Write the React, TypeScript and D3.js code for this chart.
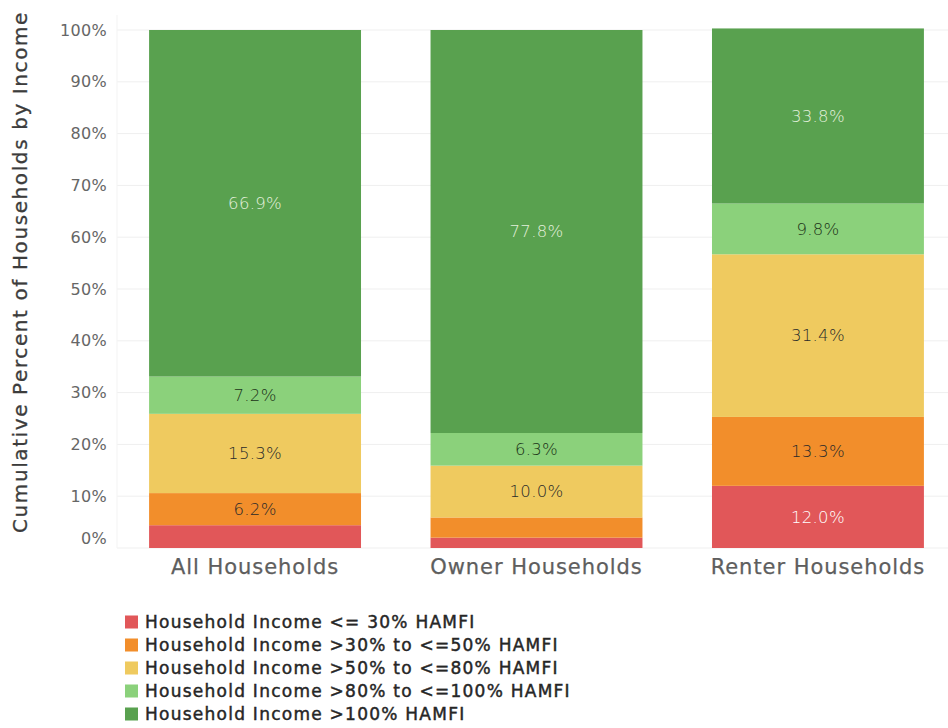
import React from "react";
import * as d3 from "d3";

const categories = ["All Households", "Owner Households", "Renter Households"];
const seriesNames = [
  "Household Income <= 30% HAMFI",
  "Household Income >30% to <=50% HAMFI",
  "Household Income >50% to <=80% HAMFI",
  "Household Income >80% to <=100% HAMFI",
  "Household Income >100% HAMFI",
];
const le30 = [4.4, 2.0, 12.0];
const gt30le50 = [6.2, 3.9, 13.3];
const gt50le80 = [15.3, 10.0, 31.4];
const gt80le100 = [7.2, 6.3, 9.8];
const gt100 = [66.9, 77.8, 33.8];
const yTicks = [0, 10, 20, 30, 40, 50, 60, 70, 80, 90, 100];

const seriesValues = [le30, gt30le50, gt50le80, gt80le100, gt100];
const colors = ["#e15759", "#f28e2b", "#efca5f", "#8bd17b", "#59a14f"];
const labelColors = ["#ffffff", "#2a2a2a", "#2a2a2a", "#1c3318", "#e3f0dc"];

const W = 948;
const H = 728;
const FONT = "'DejaVu Sans', sans-serif";

export default function App() {
  const y = d3.scaleLinear().domain([0, 100]).range([548, 30]);
  const x = d3
    .scaleBand<string>()
    .domain(categories)
    .range([117, 956])
    .paddingInner(0.247)
    .paddingOuter(0.114);

  const rows = categories.map((c, i) => {
    const r: any = { cat: c };
    seriesNames.forEach((s, j) => (r[s] = seriesValues[j][i]));
    return r;
  });
  const stacked = d3.stack<any>().keys(seriesNames)(rows);

  return (
    <div style={{ position: "absolute", left: 0, top: 0 }}>
      <svg width={W} height={H} style={{ display: "block", background: "#fff" }}>
        {yTicks.map((t) => (
          <g key={t}>
            <line x1={117} x2={W} y1={y(t)} y2={y(t)} stroke="#efefef" strokeWidth={1} />
            <text
              x={107}
              y={t === 0 ? y(t) - 10 : y(t)}
              dy="0.35em"
              textAnchor="end"
              fontFamily={FONT}
              fontSize={16}
              letterSpacing={0.3}
              fill="#666"
            >
              {t}%
            </text>
          </g>
        ))}
        <line x1={117} x2={117} y1={15} y2={548} stroke="#f3f3f3" />
        {stacked.map((layer, j) => (
          <g key={layer.key}>
            {layer.map((d, i) => {
              const cat = categories[i];
              const y0 = y(d[0]);
              const y1 = y(d[1]);
              const v = seriesValues[j][i];
              return (
                <g key={cat}>
                  <rect x={x(cat)} y={y1} width={x.bandwidth()} height={y0 - y1} fill={colors[j]} />
                  {y0 - y1 > 25 && (
                    <text
                      x={(x(cat) as number) + x.bandwidth() / 2}
                      y={(y0 + y1) / 2}
                      dy="0.35em"
                      textAnchor="middle"
                      fontFamily={FONT}
                      fontWeight={300}
                      fontSize={16.5}
                      letterSpacing={0.3}
                      fill={labelColors[j]}
                    >
                      {v.toFixed(1)}%
                    </text>
                  )}
                </g>
              );
            })}
          </g>
        ))}
        {categories.map((c) => (
          <text
            key={c}
            x={(x(c) as number) + x.bandwidth() / 2}
            y={567}
            dy="0.35em"
            textAnchor="middle"
            fontFamily={FONT}
            fontSize={21}
            letterSpacing={0.95}
            fill="#5e5e5e"
            stroke="#5e5e5e"
            strokeWidth={0.25}
          >
            {c}
          </text>
        ))}
        <text
          transform={`translate(20,272) rotate(-90)`}
          textAnchor="middle"
          dy="0.35em"
          fontFamily={FONT}
          fontSize={20}
          letterSpacing={1.6}
          fill="#3c3c3c"
          stroke="#3c3c3c"
          strokeWidth={0.3}
        >
          Cumulative Percent of Households by Income
        </text>
        {seriesNames.map((s, j) => (
          <g key={s} transform={`translate(125,${622 + j * 23})`}>
            <rect x={0} y={-6.5} width={13} height={13} fill={colors[j]} />
            <text
              x={20}
              y={0}
              dy="0.35em"
              fontFamily={FONT}
              fontSize={17}
              letterSpacing={1.25}
              fill="#262626"
              stroke="#262626"
              strokeWidth={0.45}
            >
              {s}
            </text>
          </g>
        ))}
      </svg>
    </div>
  );
}
